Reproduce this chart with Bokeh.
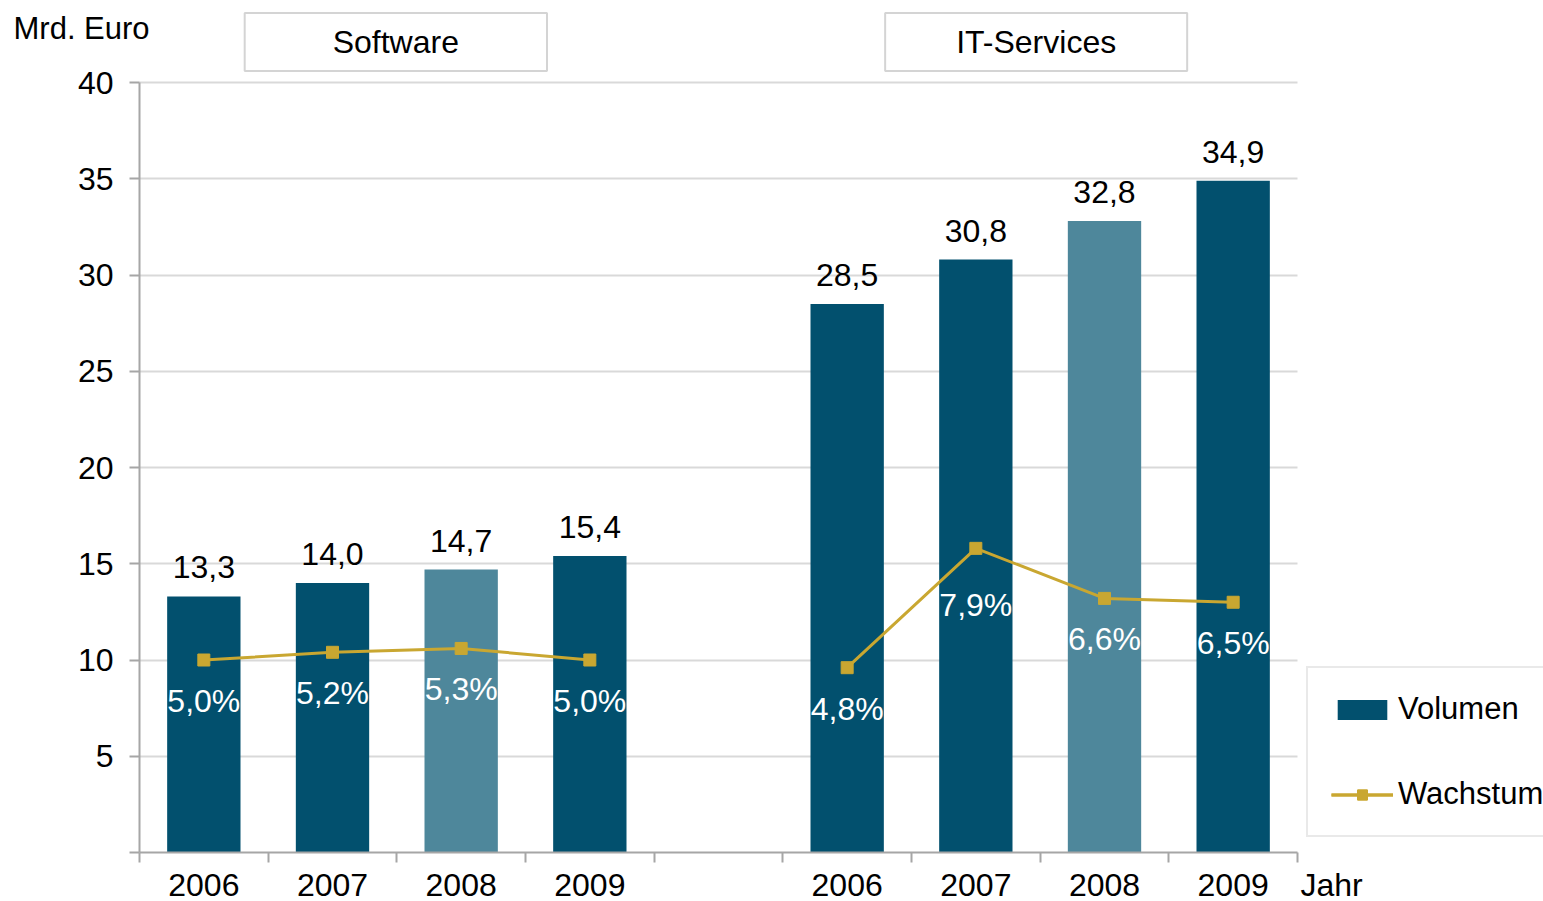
from bokeh.plotting import figure
from bokeh.models import (Range1d, FixedTicker, ColumnDataSource, LabelSet, Label,
                          LinearAxis, Grid)
from bokeh.core.properties import value
from bokeh.embed import file_html
from bokeh.resources import INLINE

# ---------------- data ----------------
groups = ["Software", "IT-Services"]
years = ["2006", "2007", "2008", "2009"]
software_volume = [13.3, 14.0, 14.7, 15.4]
it_volume = [28.5, 30.8, 32.8, 34.9]
software_growth = [5.0, 5.2, 5.3, 5.0]
it_growth = [4.8, 7.9, 6.6, 6.5]
highlight_year = "2008"
y_ticks = [0, 5, 10, 15, 20, 25, 30, 35, 40]
y_max = 40
y_title = "Mrd. Euro"
x_title = "Jahr"
legend_labels = ["Volumen", "Wachstum"]

# ---------------- style / layout ----------------
FONT = "Liberation Sans"
FS = "32px"
FS_SMALL = "31px"
DARK = "#02506E"
LIGHT = "#4E879B"
GOLD = "#C9A731"
AXIS = "#A6A6A6"
GRID = "#D9D9D9"
BOX = "#D4D4D4"
W, H = 1543, 901
FL, FR, FT, FB = 139, 1297, 82, 852          # plot area in pixels
pct_label_dy = [-52, -52, -52, -52, -52, -68, -52, -52]
header_hpad = [88, 71]
header_dx = [-1, -4]

n = len(years)
slots = 2 * n + 1
volumes = [software_volume, it_volume]
growths = [software_growth, it_growth]

xs, tops, colors, vlabels, gvals, glabels = [], [], [], [], [], []
line_x, line_y = [], []
for g in range(len(groups)):
    gx = []
    for i, yr in enumerate(years):
        x = g * (n + 1) + i + 0.5
        xs.append(x)
        gx.append(x)
        tops.append(volumes[g][i])
        colors.append(LIGHT if yr == highlight_year else DARK)
        vlabels.append(f"{volumes[g][i]:.1f}".replace(".", ","))
        gvals.append(growths[g][i])
        glabels.append(f"{growths[g][i]:.1f}%".replace(".", ","))
    line_x.append(gx)
    line_y.append(growths[g])

src = ColumnDataSource(dict(x=xs, top=tops, color=colors, vlabel=vlabels,
                            g=gvals, glabel=glabels, dy=pct_label_dy))

xu = (FR - FL) / slots
yu = (FB - FT) / y_max
x_range = Range1d(-FL / xu, slots + (W - FR) / xu)
y_range = Range1d(-(H - FB) / yu, y_max + FT / yu)

p = figure(width=W, height=H, x_range=x_range, y_range=y_range,
           output_backend="svg", toolbar_location=None,
           x_axis_location=None, y_axis_location=None,
           min_border=0, outline_line_color=None,
           background_fill_color="white", border_fill_color="white")
p.extra_y_ranges = {"pct": Range1d(y_range.start / 2, y_range.end / 2)}
for gr in p.grid:
    gr.visible = False

# grid
p.add_layout(Grid(dimension=1, ticker=FixedTicker(ticks=y_ticks[1:]), cross_bounds=(0, slots),
                  grid_line_color=GRID, grid_line_width=2))

# bars
p.vbar(x="x", top="top", width=0.57, fill_color="color", line_color=None, source=src,
       legend_label=legend_labels[0])

# growth lines
for gx, gy in zip(line_x, line_y):
    p.line(gx, gy, line_color=GOLD, line_width=3, y_range_name="pct", legend_label=legend_labels[1])
    p.scatter(gx, gy, marker="square", size=12, fill_color=GOLD, line_color=GOLD,
              y_range_name="pct", legend_label=legend_labels[1])

# axes
ya = LinearAxis(fixed_location=0, bounds=(0, y_max), ticker=FixedTicker(ticks=y_ticks))
ya.major_label_overrides = {0: ""}
ya.axis_line_color = AXIS
ya.axis_line_width = 2
ya.major_tick_line_color = AXIS
ya.major_tick_line_width = 2
ya.major_tick_in = 0
ya.major_tick_out = 10
ya.minor_tick_line_color = None
ya.major_label_standoff = 16
ya.major_label_text_font = FONT
ya.major_label_text_font_size = FS
ya.major_label_text_color = "black"
p.add_layout(ya, "left")

xa = LinearAxis(fixed_location=0, bounds=(0, slots),
                ticker=FixedTicker(ticks=xs, minor_ticks=list(range(0, slots + 1))))
xa.major_label_overrides = {x: years[i % n] for i, x in enumerate(xs)}
xa.axis_line_color = AXIS
xa.axis_line_width = 2
xa.major_tick_line_color = None
xa.major_tick_in = 0
xa.major_tick_out = 0
xa.minor_tick_line_color = AXIS
xa.minor_tick_line_width = 2
xa.minor_tick_in = 0
xa.minor_tick_out = 10
xa.major_label_standoff = 11
xa.major_label_text_font = FONT
xa.major_label_text_font_size = FS
xa.major_label_text_color = "black"
p.add_layout(xa, "below")

# labels
p.add_layout(LabelSet(x="x", y="top", text="vlabel", source=src, y_offset=18,
                      text_align="center", text_baseline="alphabetic",
                      text_font=value(FONT), text_font_size=value(FS), text_color="black"))
p.add_layout(LabelSet(x="x", y="g", text="glabel", source=src, y_offset="dy", y_range_name="pct",
                      text_align="center", text_baseline="alphabetic",
                      text_font=value(FONT), text_font_size=value(FS), text_color="white"))
p.add_layout(Label(x=slots, y=0, x_offset=3, y_offset=-32, text=x_title,
                   text_align="left", text_baseline="alphabetic",
                   text_font=FONT, text_font_size=FS, text_color="black"))
p.add_layout(Label(x=13, y=H - 28, x_units="screen", y_units="screen", text=y_title,
                   text_align="left", text_baseline="middle",
                   text_font=FONT, text_font_size=FS_SMALL, text_color="black"))

# group header boxes
group_centers = [(n - 1) / 2 + 0.5 + g * (n + 1) for g in range(len(groups))]
for gname, cx, hp, dx in zip(groups, group_centers, header_hpad, header_dx):
    p.add_layout(Label(x=cx, y=H - 41.5, y_units="screen", x_offset=dx, text=gname,
                       text_align="center", text_baseline="middle",
                       text_font=FONT, text_font_size=FS, text_color="black",
                       border_line_color=BOX, border_line_width=2,
                       background_fill_color="white",
                       padding=dict(left=hp, right=hp, top=11, bottom=11)))

# legend
lg = p.legend[0]
lg.location = (1306, H - 837)
lg.label_text_font = FONT
lg.label_text_font_size = FS_SMALL
lg.label_text_color = "black"
lg.glyph_width = 62
lg.glyph_height = 25
lg.label_standoff = 5
lg.padding = 23
lg.spacing = 49
lg.margin = 0
lg.border_line_color = BOX
lg.border_line_width = 2
lg.background_fill_color = "white"
lg.background_fill_alpha = 1.0

open("out.html", "w").write(file_html(p, INLINE))
